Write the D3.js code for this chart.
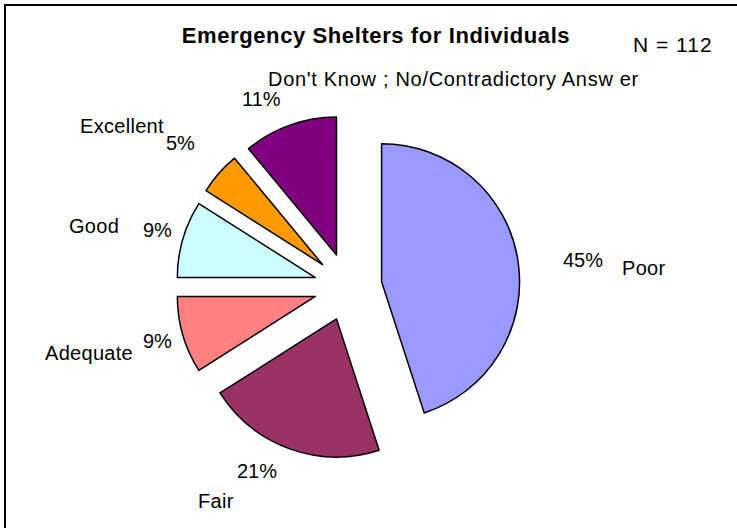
<!DOCTYPE html>
<html>
<head>
<meta charset="utf-8">
<script src="https://cdn.jsdelivr.net/npm/d3@7"></script>
<style>
  html, body { margin: 0; padding: 0; background: #fff; }
  svg text { font-family: "Liberation Sans", Arial, sans-serif; fill: #000; }
</style>
</head>
<body>
<div id="chart"></div>
<script>
const categories = ["Poor", "Fair", "Adequate", "Good", "Excellent", "Don't Know ; No/Contradictory Answ er"];
const percents = [45, 21, 9, 9, 5, 11];
const colors = ["#9999FF", "#993366", "#FF8080", "#CCFFFF", "#FF9900", "#800080"];

// where each category name and percent label sit (Excel-style manual placement)
const namePos = [[622, 275], [198, 508], [45, 360], [69, 233], [80, 133], [268, 86]];
const nameSpacing = [0.3, 0.3, 0.3, 0.3, 0.3, 0.7];
const pctPos = [[563, 267], [237, 478], [143, 348], [143, 237], [166, 150], [242, 106]];

const width = 737, height = 528;
const cx = 348, cy = 287, radius = 138, explode = 34;

const svg = d3.select('#chart')
  .append('svg')
  .attr('width', width)
  .attr('height', height);

// chart frame
svg.append('rect')
  .attr('x', 5).attr('y', 5)
  .attr('width', 900).attr('height', 900)
  .attr('fill', 'none')
  .attr('stroke', '#000')
  .attr('stroke-width', 2);

const pie = d3.pie().sort(null).value(d => d)(percents);
const arc = d3.arc().innerRadius(0).outerRadius(radius);

const g = svg.append('g').attr('transform', `translate(${cx},${cy})`);

g.selectAll('path')
  .data(pie)
  .enter().append('path')
  .attr('d', arc)
  .attr('transform', d => {
    const mid = (d.startAngle + d.endAngle) / 2;
    return `translate(${explode * Math.sin(mid)},${-explode * Math.cos(mid)})`;
  })
  .attr('fill', (d, i) => colors[i])
  .attr('stroke', '#000')
  .attr('stroke-width', 1.5)
  .attr('stroke-linejoin', 'round');

// labels
svg.selectAll('.name')
  .data(categories)
  .enter().append('text')
  .attr('class', 'name')
  .attr('x', (d, i) => namePos[i][0])
  .attr('y', (d, i) => namePos[i][1])
  .attr('font-size', 20)
  .attr('letter-spacing', (d, i) => nameSpacing[i])
  .text(d => d);

svg.selectAll('.pct')
  .data(percents)
  .enter().append('text')
  .attr('class', 'pct')
  .attr('x', (d, i) => pctPos[i][0])
  .attr('y', (d, i) => pctPos[i][1])
  .attr('font-size', 20)
  .text(d => d + '%');

// title and sample size
svg.append('text')
  .attr('x', 376).attr('y', 43)
  .attr('text-anchor', 'middle')
  .attr('font-size', 22)
  .attr('font-weight', 'bold')
  .attr('letter-spacing', 0.6)
  .text('Emergency Shelters for Individuals');

svg.append('text')
  .attr('x', 633).attr('y', 52)
  .attr('font-size', 21)
  .attr('letter-spacing', 1)
  .text('N = 112');
</script>
</body>
</html>
